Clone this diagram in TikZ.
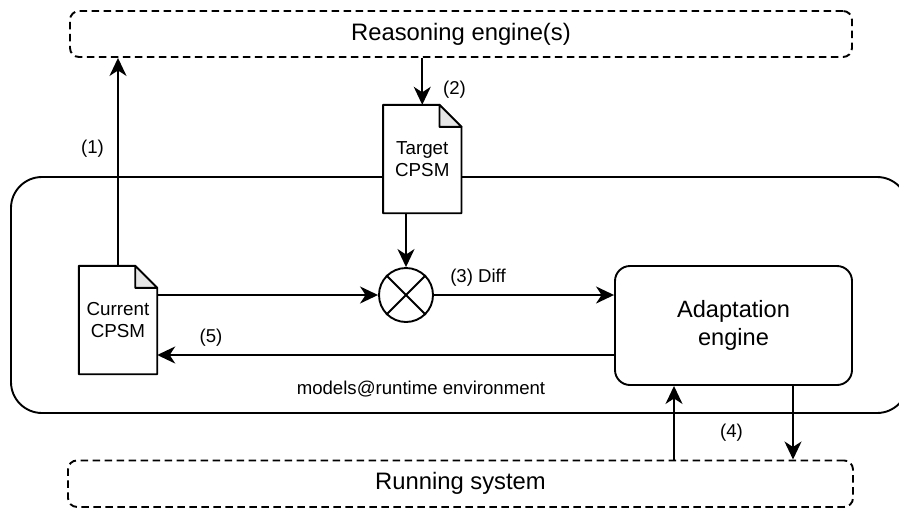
\documentclass[tikz,border=0pt]{standalone}
\usepackage{fontspec}
\setmainfont{Liberation Sans}
\usetikzlibrary{arrows.meta,calc}

\definecolor{foldgray}{HTML}{E6E6E6}

\tikzset{
  line/.style={line width=1.9pt},
  arr/.style={line, -{Stealth[length=18pt,width=17pt,inset=5.5pt]}},
  dashbox/.style={draw, line, dash pattern=on 7.5pt off 4.5pt, rounded corners=9pt,
    inner sep=0pt, font=\fontsize{23.8}{28}\selectfont},
  docbox/.style={minimum width=78pt, minimum height=108pt, inner sep=0pt,
    align=center, fill=white, font=\fontsize{18.8}{21.7}\selectfont},
  enginebox/.style={draw, line, rounded corners=15pt, fill=white, align=center,
    inner sep=0pt, font=\fontsize{23.6}{27.7}\selectfont},
  lbl/.style={inner sep=0pt, font=\fontsize{18.6}{21.7}\selectfont},
}

% outline of a document with a folded top-right corner
\newcommand\foldeddoc[1]{%
  \draw[line, line join=round] (#1.north west) -- ([xshift=-22pt]#1.north east)
    -- ([yshift=-22pt]#1.north east) -- (#1.south east) -- (#1.south west) -- cycle;
  \draw[line, line join=round, fill=foldgray] ([xshift=-22pt]#1.north east)
    -- ([xshift=-22pt,yshift=-22pt]#1.north east) -- ([yshift=-22pt]#1.north east) -- cycle;}

\begin{document}
\begin{tikzpicture}[x=1pt,y=-1pt]
  \clip (0,0) rectangle (899,509);

  % models@runtime container
  \node[draw, line, rounded corners=31pt, minimum width=897pt, minimum height=236pt,
        inner sep=0pt] (env) at (459.5,295) {};
  \node[lbl] (envlbl) at (421,389) {models@runtime environment};

  % external parts
  \node[dashbox, minimum width=782pt, minimum height=46pt] (reason) at (461,34) {Reasoning engine(s)};
  \node[dashbox, minimum width=785pt, minimum height=46.5pt] (running) at (460.5,483.7) {Running system};

  % models
  \node[docbox] (target) at (422.25,159) {Target\\CPSM};
  \foldeddoc{target}
  \node[docbox] (current) at (118,320) {Current\\CPSM};
  \foldeddoc{current}

  % comparison and adaptation
  \node[draw, line, circle, minimum size=54pt, inner sep=0pt] (sum) at (406,295) {};
  \draw[line] (sum.north west) -- (sum.south east) (sum.north east) -- (sum.south west);
  \node[enginebox, minimum width=237pt, minimum height=119pt] (adapt) at (733.5,325.5) {Adaptation\\engine};

  % connectors
  \draw[arr] (current.north) -- (current.north |- reason.south);
  \draw[arr] (reason.south -| target.north) -- (target.north);
  \draw[arr] (target.south -| sum.north) -- (sum.north);
  \draw[arr] (sum.west -| current.east) -- (sum.west);
  \draw[arr] (sum.east) -- (sum.east -| adapt.west);
  \coordinate (back) at (adapt.west |- 0,355);
  \draw[arr] (back) -- (back -| current.east);
  \coordinate (upx) at (674,0);
  \coordinate (downx) at (793,0);
  \draw[arr] (upx |- running.north) -- (upx |- adapt.south);
  \draw[arr] (downx |- adapt.south) -- (downx |- running.north);

  % step labels
  \node[lbl] (l1) at (92.5,149) {(1)};
  \node[lbl] (l2) at (454.5,90) {(2)};
  \node[lbl] (l3) at (478,278) {(3) Diff};
  \node[lbl] (l4) at (731.5,433) {(4)};
  \node[lbl] (l5) at (211,338) {(5)};
\end{tikzpicture}
\end{document}
